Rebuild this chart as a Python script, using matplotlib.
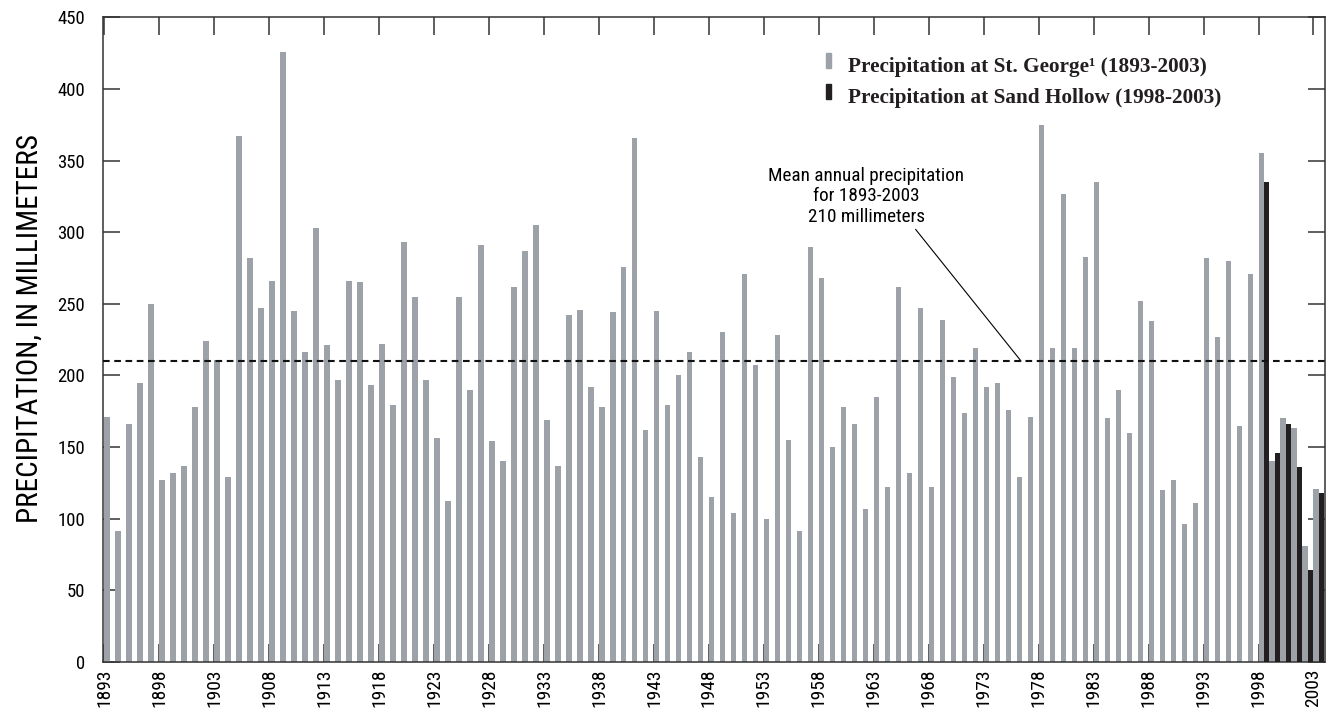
import numpy as np
import matplotlib
matplotlib.use("Agg")
from matplotlib import pyplot as plt
from matplotlib.patches import Rectangle

# annual precipitation, mm
years = np.arange(1893, 2004)
st_george = [
    171, 91, 166, 195, 250, 127, 132, 137, 178, 224,
    211, 129, 367, 282, 247, 266, 426, 245, 216, 303,
    221, 197, 266, 265, 193, 222, 179, 293, 255, 197,
    156, 112, 255, 190, 291, 154, 140, 262, 287, 305,
    169, 137, 242, 246, 192, 178, 244, 276, 366, 162,
    245, 179, 200, 216, 143, 115, 230, 104, 271, 207,
    100, 228, 155, 91, 290, 268, 150, 178, 166, 107,
    185, 122, 262, 132, 247, 122, 239, 199, 174, 219,
    192, 195, 176, 129, 171, 375, 219, 327, 219, 283,
    335, 170, 190, 160, 252, 238, 120, 127, 96, 111,
    282, 227, 280, 165, 271, 355, 140, 170, 163, 81,
    121,
]
sand_years = np.arange(1998, 2004)
sand_hollow = [335, 146, 166, 136, 64, 118]
mean_precip = 210

tick_years = np.arange(1893, 2004, 5)
y_ticks = np.arange(0, 451, 50)

gray = "#9ca2a7"
dark = "#231f20"
cond = ["Roboto Condensed", "DejaVu Sans"]
serif = ["Liberation Serif", "DejaVu Serif"]

fig = plt.figure(figsize=(13.35, 7.17), dpi=100)
ax = fig.add_axes([103.3 / 1335, 1 - 661.8 / 717, 1221.7 / 1335, 644.4 / 717])

ax.bar(years, st_george, width=0.5, align="edge", color=gray, zorder=2)
ax.bar(sand_years + 0.5, sand_hollow, width=0.5, align="edge", color=dark, zorder=3)
ax.axhline(mean_precip, color="#111111", lw=1.5, ls=(0, (3.2, 2.2)), zorder=4)

ax.set_xlim(1892.9, 2004.05)
ax.set_ylim(0, 450)
ax.set_xticks(tick_years)
ax.set_xticklabels([str(y) for y in tick_years], rotation=90, family=cond, fontsize=14,
                   va="top")
ax.set_yticks(y_ticks)
ax.set_yticklabels([str(v) for v in y_ticks], family=cond, fontsize=13.5)
ax.tick_params(axis="x", direction="in", top=True, length=13, width=1.1,
               color="#333333", pad=5)
ax.tick_params(axis="y", direction="in", right=True, length=12, width=1.1,
               color="#333333", pad=13)
for s in ax.spines.values():
    s.set_linewidth(1.1)
    s.set_color("#333333")

ax.set_ylabel("PRECIPITATION, IN MILLIMETERS", family=cond, fontsize=21, va="center")
ax.yaxis.set_label_coords(-0.0600, 0.518)

# mean line callout
ax.text(1962.3, 325, "Mean annual precipitation\nfor 1893-2003\n210 millimeters",
        ha="center", va="center", fontsize=13.8, family=cond, linespacing=1.17, zorder=5)
ax.annotate("", xy=(1976.4, mean_precip), xytext=(1966.8, 302),
            arrowprops=dict(arrowstyle="-", color="black", lw=0.8,
                            shrinkA=0, shrinkB=0))

# legend: short bar swatches beside bold serif labels
legend_rows = [
    (gray, "Precipitation at St. George\u00b9 (1893-2003)", 0.9153),
    (dark, "Precipitation at Sand Hollow (1998-2003)", 0.8672),
]
for color, label, base in legend_rows:
    ax.add_patch(Rectangle((0.5918, base + 0.006), 0.0041, 0.0233,
                           transform=ax.transAxes, color=color, clip_on=False, zorder=5))
    ax.text(0.6096, base, label, transform=ax.transAxes, va="baseline", ha="left",
            family=serif, weight="bold", fontsize=15.3, color="#231f20", zorder=5)

fig.savefig("out.png", dpi=100)
